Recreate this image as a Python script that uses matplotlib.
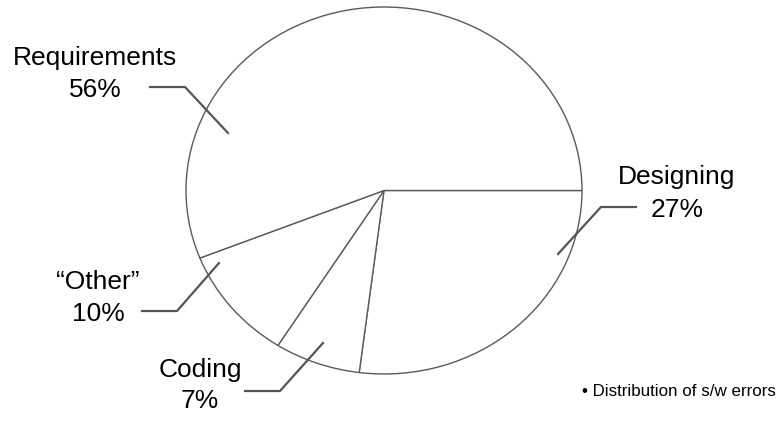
import matplotlib
matplotlib.use("Agg")
import matplotlib.pyplot as plt
from matplotlib.lines import Line2D

# share of software errors by origin, clockwise from 3 o'clock
categories = ["Designing", "Coding", "\u201cOther\u201d", "Requirements"]
shares = [27, 7, 10, 56]
caption = "\u2022 Distribution of s/w errors"

W, H = 778, 425
plt.rcParams["font.family"] = ["Liberation Sans", "DejaVu Sans"]

fig = plt.figure(figsize=(W / 100, H / 100), dpi=100)


def fx(x, y):
    """pixel position (origin top-left) -> figure fraction"""
    return x / W, 1 - y / H


# the pie is stretched into an ellipse by its axes box
cx, cy, rx, ry = 384, 190.5, 198, 183.5
ax = fig.add_axes([(cx - rx) / W, 1 - (cy + ry) / H, 2 * rx / W, 2 * ry / H])
ax.pie(shares, startangle=0, counterclock=False,
       wedgeprops=dict(facecolor="white", edgecolor="#5a5a5a", linewidth=1.0))
ax.set_aspect("auto")
ax.set_xlim(-1, 1)
ax.set_ylim(-1, 1)
ax.axis("off")

# label layout: text centre x, first/second baselines, leader (outer, elbow, inner)
label_pos = {
    "Requirements": (95, 65, 97, [(150, 87), (185, 87), (228, 133)]),
    "Designing": (677, 184, 217, [(636, 207), (601, 207), (558, 254)]),
    "\u201cOther\u201d": (98, 289, 321, [(142, 311), (177, 311), (219, 263)]),
    "Coding": (200, 377, 408, [(245, 391), (280, 391), (323, 343)]),
}

for name, v in zip(categories, shares):
    x, b1, b2, leader = label_pos[name]
    fig.text(*fx(x, b1), name, ha="center", va="baseline", fontsize=19)
    fig.text(*fx(x, b2), f"{v}%", ha="center", va="baseline", fontsize=19)
    pts = [fx(px, py) for px, py in leader]
    fig.add_artist(Line2D([p[0] for p in pts], [p[1] for p in pts],
                          transform=fig.transFigure, color="#555555", linewidth=1.6))

fig.text(*fx(776, 396), caption, ha="right", va="baseline", fontsize=12.2)

fig.savefig("out.png", dpi=100, facecolor="white")
